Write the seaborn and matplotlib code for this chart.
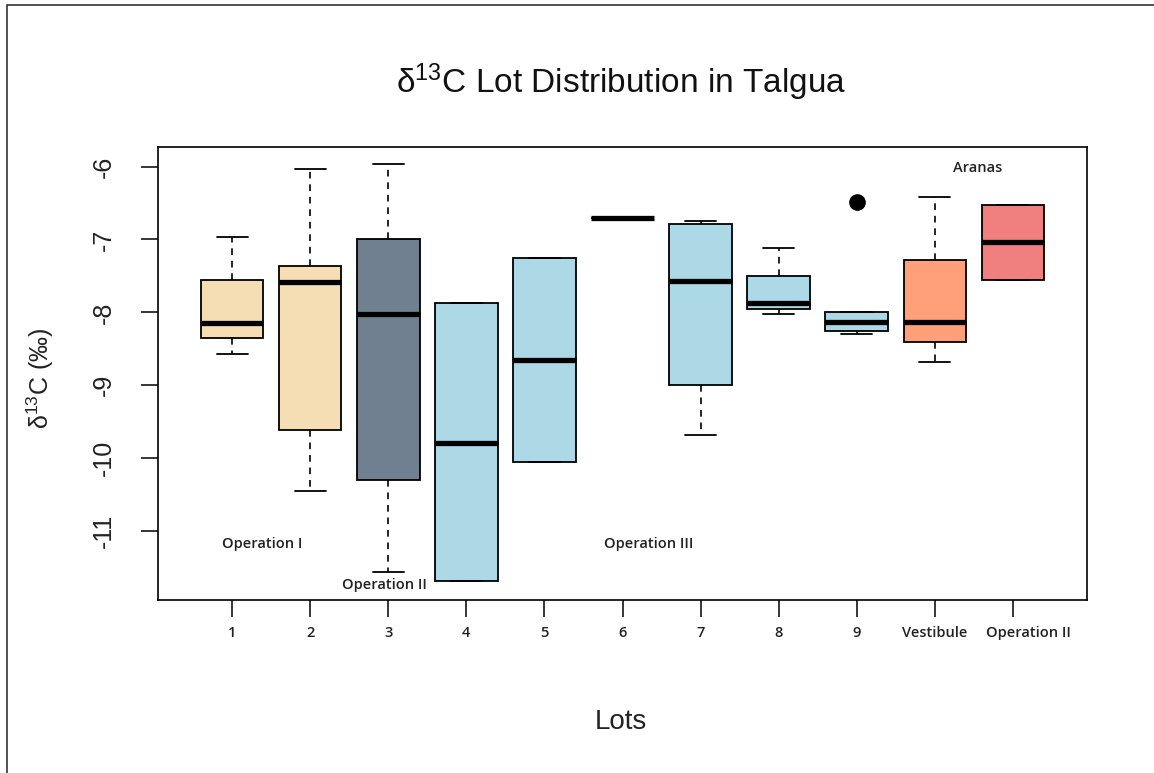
import pandas as pd
import numpy as np
import matplotlib
matplotlib.use("Agg")
import matplotlib.pyplot as plt
import matplotlib.transforms as mtrans
import seaborn as sns
from matplotlib.patches import Rectangle

# lot names and the colour for each box
lots = ["1", "2", "3", "4", "5", "6", "7", "8", "9", "Vestibule", "Operation II"]
lot_colors = ["#F5DEB3", "#F5DEB3", "#708090", "#ADD8E6", "#ADD8E6", "#ADD8E6",
              "#ADD8E6", "#ADD8E6", "#ADD8E6", "#FFA07A", "#F08080"]

# d13C values for each lot
lot1 = [-8.57, -8.35, -8.14, -7.55, -6.96]
lot2 = [-10.45, -9.62, -7.58, -7.37, -6.03]
lot3 = [-11.56, -10.30, -8.02, -6.99, -5.96]
lot4 = [-11.69, -11.69, -9.79, -7.87, -7.87]
lot5 = [-10.05, -10.05, -8.65, -7.25, -7.25]
lot6 = [-6.70]
lot7 = [-9.68, -9.00, -7.57, -6.79, -6.75]
lot8 = [-8.02, -7.95, -7.87, -7.50, -7.12]
lot9 = [-8.30, -8.25, -8.25, -8.13, -8.13, -8.00, -8.00, -8.00, -6.49]
vestibule = [-8.68, -8.41, -8.13, -7.28, -6.42]
aranas_op2 = [-7.55, -7.55, -7.04, -6.53, -6.53]

values = [lot1, lot2, lot3, lot4, lot5, lot6, lot7, lot8, lot9, vestibule, aranas_op2]
df = pd.DataFrame({
    "lot": [name for name, v in zip(lots, values) for _ in v],
    "d13c": [x for v in values for x in v],
})

sns.set_style("white")
plt.rcParams["font.family"] = ["Liberation Sans", "DejaVu Sans"]
plt.rcParams["mathtext.fontset"] = "custom"
plt.rcParams["mathtext.rm"] = "Liberation Sans"
plt.rcParams["mathtext.it"] = "Liberation Sans"

fig = plt.figure(figsize=(11.54, 7.73), dpi=100)
ax = fig.add_axes([158 / 1154, 1 - 600 / 773, (1087 - 158) / 1154, (600 - 147) / 773])

sns.boxplot(data=df, x="lot", y="d13c", order=lots, hue="lot", hue_order=lots,
            palette=lot_colors, legend=False, saturation=1, width=0.8, ax=ax,
            linecolor="black", linewidth=1.3,
            whiskerprops=dict(linestyle=(0, (4, 3.5)), color="black", linewidth=1.2),
            capprops=dict(color="black", linewidth=1.3),
            medianprops=dict(color="black", linewidth=3.8),
            flierprops=dict(marker="o", markerfacecolor="black", markeredgecolor="black",
                            markersize=11))

ax.set_xlim(-0.95, 10.95)
ax.set_ylim(-11.95, -5.73)
ax.set_yticks([-11, -10, -9, -8, -7, -6])
ax.set_yticklabels(["-11", "-10", "-9", "-8", "-7", "-6"], rotation=90, va="center",
                   fontsize=18, color="#222222")
ax.set_xticks(range(len(lots)))
ax.set_xticklabels(lots, fontsize=10.5, family="Open Sans", fontweight="semibold",
                   color="#222222")
ax.tick_params(axis="y", length=12, width=1.1, pad=18, left=True, color="black")
ax.tick_params(axis="x", length=12, width=1.1, pad=7, bottom=True, color="black")
for s in ax.spines.values():
    s.set_visible(True)
    s.set_color("black")
    s.set_linewidth(1.2)

# last label sits a little right of its tick in the source
last = ax.get_xticklabels()[-1]
last.set_transform(last.get_transform() + mtrans.ScaledTranslation(0.16, 0, fig.dpi_scale_trans))

ax.set_xlabel("")
ax.set_ylabel("")
fig.text(621 / 1154, 1 - 722 / 773, "Lots", fontsize=20, ha="center", va="center",
         color="#222222")
fig.text(40 / 1154, 1 - 378 / 773, r"δ$^{13}$C (‰)", fontsize=18, rotation=90,
         ha="center", va="center", color="#222222")
fig.text(621 / 1154, 1 - 82 / 773, r"δ$^{13}$C Lot Distribution in Talgua",
         fontsize=24, ha="center", va="center", color="#111111")

# group labels inside the plot
note_kw = dict(fontsize=10.5, family="Open Sans", fontweight="semibold",
               color="#222222", ha="center", va="center")
ax.text(0.38, -11.18, "Operation I", **note_kw)
ax.text(1.95, -11.75, "Operation II", **note_kw)
ax.text(5.33, -11.18, "Operation III", **note_kw)
ax.text(9.55, -6.02, "Aranas", **note_kw)

# thin frame round the picture (top and left edges visible in the source)
fig.patches.append(Rectangle((7 / 1154, -0.1), 1.2, 1 - 5 / 773 + 0.1,
                             transform=fig.transFigure, fill=False,
                             edgecolor="#333333", linewidth=1.2))

fig.savefig("out.png", dpi=100)
